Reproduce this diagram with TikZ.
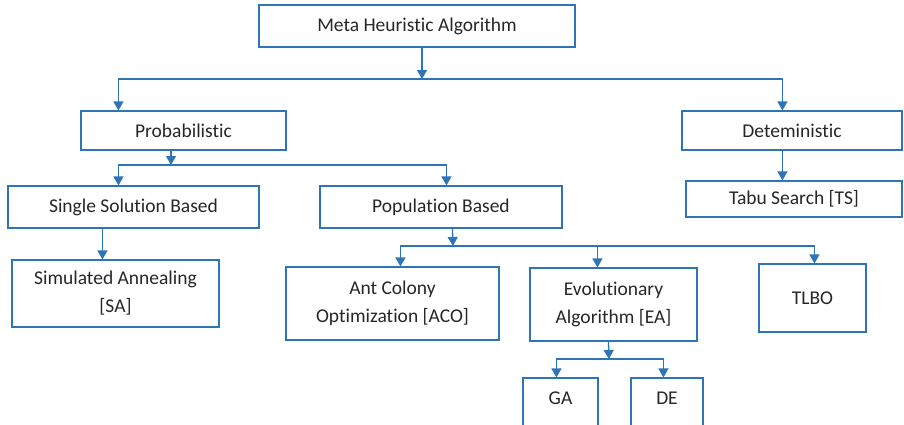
\documentclass[tikz,border=0pt]{standalone}
\usepackage{fontspec}
\setmainfont{Carlito}[Ligatures=NoCommon]
\usetikzlibrary{arrows.meta}
\definecolor{boxblue}{RGB}{46,117,182}
\begin{document}
\begin{tikzpicture}[x=1pt,y=-1pt]
        \tikzset{box node/.style={rectangle,draw=boxblue,line width=1.1pt,fill=none,inner sep=0pt,align=center,text=black!85,font=\fontsize{19.5}{28}\selectfont},
                 link/.style={draw=boxblue,line width=1.3pt,-{Triangle[width=10pt,length=9pt]}}}
        \clip (0,0) rectangle (904,424);
        \node[box node,minimum width=316pt,minimum height=42pt] (meta) at (417,26) {Meta Heuristic Algorithm};
        \node[box node,minimum width=205pt,minimum height=39pt] (prob) at (183.5,130.5) {Probabilistic};
        \node[box node,minimum width=220pt,minimum height=39pt] (det) at (792,130.5) {Deteministic};
        \node[box node,minimum width=216pt,minimum height=36pt] (tabu) at (794,199) {Tabu Search [TS]};
        \node[box node,minimum width=251pt,minimum height=42pt] (single) at (133.5,207) {Single Solution Based};
        \node[box node,minimum width=242pt,minimum height=42pt] (pop) at (441,207) {Population Based};
        \node[box node,minimum width=207pt,minimum height=67pt] (sa) at (115.5,293.5) {Simulated Annealing\\{[SA]}};
        \node[box node,minimum width=213pt,minimum height=73pt] (aco) at (392.5,303.5) {Ant Colony\\Optimization [ACO]};
        \node[box node,minimum width=167pt,minimum height=73pt] (ea) at (613.5,304.5) {Evolutionary\\Algorithm [EA]};
        \node[box node,minimum width=107pt,minimum height=68pt] (tlbo) at (812.5,298) {TLBO};
        \node[box node,minimum width=75pt,minimum height=52pt,text depth=12pt] (ga) at (560.5,404) {GA};
        \node[box node,minimum width=72pt,minimum height=52pt,text depth=12pt] (de) at (667,404) {DE};
        \coordinate (meta split) at (422,79);
        \coordinate (prob split) at (171,165);
        \coordinate (pop split) at (453,246);
        \coordinate (ea split) at (609,359);
        \draw[link] ([xshift=5pt]meta.south) -- (meta split);
        \draw[link] (meta split) -| ([xshift=38pt]prob.north west);
        \draw[link] (meta split) -| ([xshift=101pt]det.north west);
        \draw[link] ([xshift=101pt]det.south west) -- ([xshift=97pt]tabu.north west);
        \draw[link] ([xshift=-12.5pt]prob.south) -- (prob split);
        \draw[link] (prob split) -| ([xshift=111pt]single.north west);
        \draw[link] (prob split) -| ([xshift=127pt]pop.north west);
        \draw[link] ([xshift=95pt]single.south west) -- ([xshift=91pt]sa.north west);
        \draw[link] ([xshift=133pt]pop.south west) -- (pop split);
        \draw[link] (pop split) -| ([xshift=115pt]aco.north west);
        \draw[link] (pop split) -| ([xshift=68pt]ea.north west);
        \draw[link] (pop split) -| ([xshift=56pt]tlbo.north west);
        \draw[link] ([xshift=79pt]ea.south west) -- (ea split);
        \draw[link] (ea split) -| ([xshift=34pt]ga.north west);
        \draw[link] (ea split) -| ([xshift=33pt]de.north west);
      \end{tikzpicture}
\end{document}
